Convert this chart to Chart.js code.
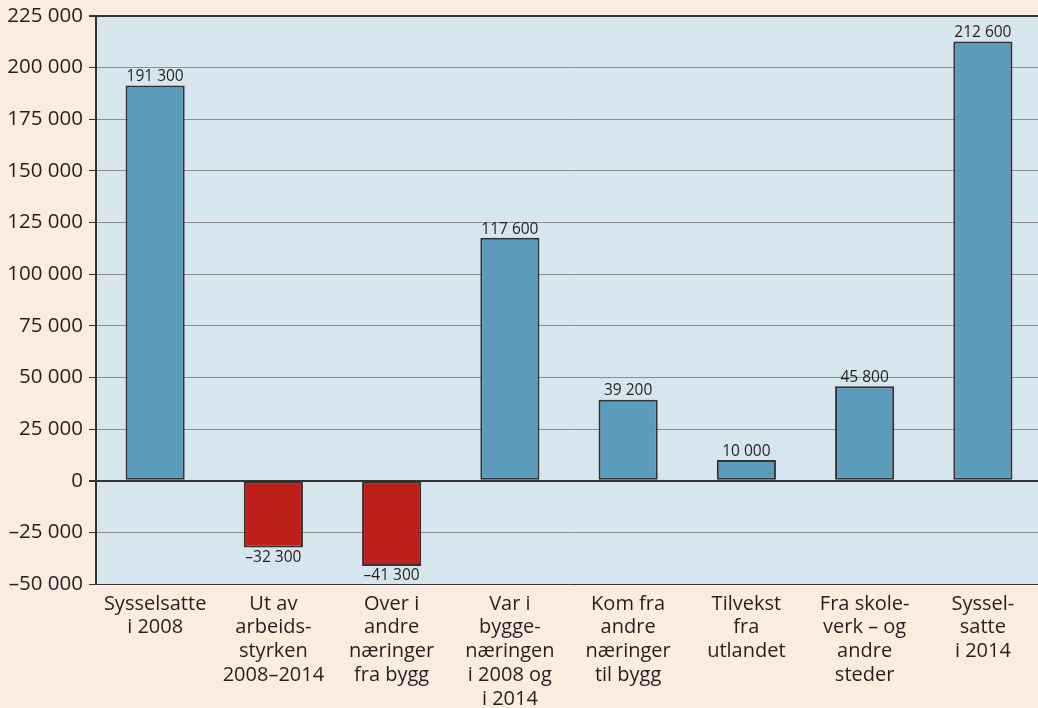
<!DOCTYPE html>
<html>
<head>
<meta charset="utf-8">
<script src="https://cdn.jsdelivr.net/npm/chart.js@4/dist/chart.umd.min.js"></script>
<style>
  html, body { margin: 0; padding: 0; overflow: hidden; background: #fcece0; }
  canvas { display: block; }
</style>
</head>
<body>
<canvas id="flytChart" width="1042" height="708"></canvas>
<script>
const kategorier = [
    ['Sysselsatte', 'i 2008'],
    ['Ut av', 'arbeids-', 'styrken', '2008–2014'],
    ['Over i', 'andre', 'næringer', 'fra bygg'],
    ['Var i', 'bygge-', 'næringen', 'i 2008 og', 'i 2014'],
    ['Kom fra', 'andre', 'næringer', 'til bygg'],
    ['Tilvekst', 'fra', 'utlandet'],
    ['Fra skole-', 'verk – og', 'andre', 'steder'],
    ['Syssel-', 'satte', 'i 2014']
];
const verdier = [191300, -32300, -41300, 117600, 39200, 10000, 45800, 212600];
const yMin = -50000;
const yMax = 225000;
const yStep = 25000;

const tekstFarge = '#231f20';

function formater(v) {
    const s = Math.abs(v).toString().replace(/\B(?=(\d{3})+(?!\d))/g, ' ');
    return (v < 0 ? '–' : '') + s;
}

// bakgrunn i plottområdet
const plotBakgrunn = {
    id: 'plotBakgrunn',
    beforeDraw(chart) {
        const a = chart.chartArea;
        const c = chart.ctx;
        c.save();
        c.fillStyle = '#d7e5ee';
        c.fillRect(a.left, a.top, a.right - a.left, a.bottom - a.top);
        c.restore();
    }
};

// tall over/under søylene
const verdiEtiketter = {
    id: 'verdiEtiketter',
    afterDatasetsDraw(chart) {
        const c = chart.ctx;
        const meta = chart.getDatasetMeta(0);
        c.save();
        c.font = '15.5px "Open Sans"';
        c.fillStyle = tekstFarge;
        c.textAlign = 'center';
        meta.data.forEach((bar, i) => {
            const v = verdier[i];
            if (v >= 0) {
                c.textBaseline = 'bottom';
                c.fillText(formater(v), bar.x, bar.y - 1);
            } else {
                c.textBaseline = 'top';
                c.fillText(formater(v), bar.x, bar.y + 2);
            }
        });
        c.restore();
    }
};

const ctx = document.getElementById('flytChart').getContext('2d');
const flytChart = new Chart(ctx, {
    type: 'bar',
    data: {
        labels: kategorier,
        datasets: [{
            data: verdier,
            backgroundColor: verdier.map(v => v < 0 ? '#c0201a' : '#5b9bbc'),
            borderColor: '#333333',
            borderWidth: 2,
            borderSkipped: false,
            barPercentage: 0.5,
            categoryPercentage: 1
        }]
    },
    options: {
        responsive: false,
        animation: false,
        layout: { padding: { top: 16, left: 0, right: 0, bottom: 0 } },
        plugins: {
            legend: { display: false },
            tooltip: { enabled: false }
        },
        scales: {
            x: {
                grid: { display: false },
                border: { display: false },
                ticks: {
                    color: tekstFarge,
                    font: { family: '"Open Sans"', size: 20, lineHeight: 1.19 },
                    padding: 0,
                    maxRotation: 0,
                    autoSkip: false
                },
                afterFit(scale) { scale.height = 124; }
            },
            y: {
                min: yMin,
                max: yMax,
                ticks: {
                    stepSize: yStep,
                    color: tekstFarge,
                    font: { family: '"Open Sans"', size: 20.5 },
                    padding: 6,
                    callback: v => formater(v)
                },
                grid: {
                    color: c => (c.tick && (c.tick.value === 0 || c.tick.value === yMax || c.tick.value === yMin)) ? '#333333' : '#8c8c8c',
                    lineWidth: c => (c.tick && (c.tick.value === 0 || c.tick.value === yMax)) ? 2 : 1,
                    tickColor: '#333333',
                    tickLength: 7
                },
                border: { display: true, color: '#333333', width: 2 },
                afterFit(scale) {
                    scale.width = 96;
                    scale.paddingTop = 0;
                    scale.paddingBottom = 0;
                }
            }
        }
    },
    plugins: [plotBakgrunn, verdiEtiketter]
});
</script>
</body>
</html>
